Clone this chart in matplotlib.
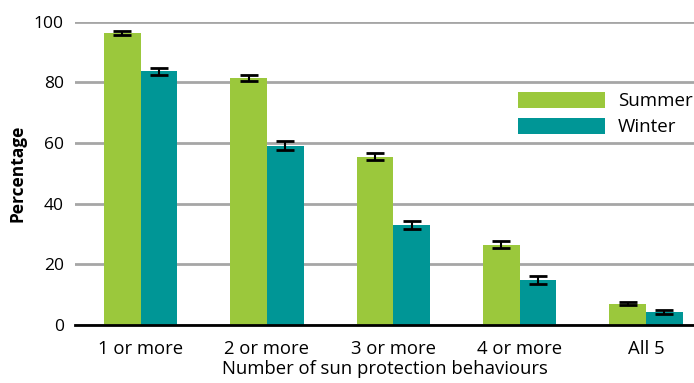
import numpy as np
import matplotlib.pyplot as plt

plt.rcParams['font.family'] = ['Open Sans', 'DejaVu Sans']

categories = ['1 or more', '2 or more', '3 or more', '4 or more', 'All 5']
summer = [96.3, 81.6, 55.5, 26.5, 7.0]
winter = [83.7, 59.2, 33.0, 14.9, 4.4]
summer_err = [0.6, 1.0, 1.2, 1.2, 0.5]
winter_err = [1.1, 1.4, 1.2, 1.3, 0.6]

green = '#9BC83C'
teal = '#009696'

fig = plt.figure(figsize=(6.94, 3.83), dpi=100)
ax = fig.add_axes([0.108, 0.151, 0.892, 0.792])

x = np.arange(len(categories))
w = 0.29
err_kw = dict(ecolor='black', elinewidth=1.5, capsize=6.5, capthick=2)
ax.bar(x - w / 2, summer, w, color=green, label='Summer', yerr=summer_err, error_kw=err_kw, zorder=3)
ax.bar(x + w / 2, winter, w, color=teal, label='Winter', yerr=winter_err, error_kw=err_kw, zorder=3)

ax.set_ylim(0, 100)
ax.set_xlim(-0.52, 4.38)
ax.set_yticks(range(0, 101, 20))
ax.set_xticks(x)
ax.set_xticklabels(categories)
ax.yaxis.grid(True, color='#A6A6A6', linewidth=2, zorder=0)
ax.set_axisbelow(True)

for s in ['left', 'right', 'top']:
    ax.spines[s].set_visible(False)
ax.spines['bottom'].set_linewidth(2)
ax.spines['bottom'].set_zorder(4)
ax.tick_params(axis='y', length=0, labelsize=12.5, pad=8)
ax.tick_params(axis='x', length=0, labelsize=13.3, pad=11)

ax.set_xlabel('Number of sun protection behaviours', fontsize=13.3, labelpad=1)
ax.set_ylabel('Percentage', fontsize=12.5, fontweight='bold', labelpad=5)

ax.legend(loc='upper right', bbox_to_anchor=(1.025, 0.825), frameon=False, fontsize=13.5,
          handlelength=4.6, handleheight=0.95, labelspacing=0.4, handletextpad=0.7)

fig.savefig('out.png', dpi=100)
